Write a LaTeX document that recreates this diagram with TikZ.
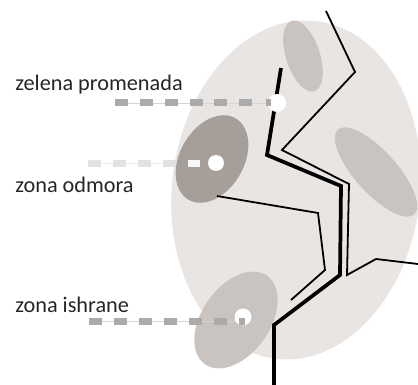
\documentclass[tikz,border=0pt]{standalone}
\usepackage{fontspec}
\setmainfont{Carlito}
\definecolor{parkbg}{HTML}{E9E5E3}
\definecolor{zonelight}{HTML}{CAC4C0}
\definecolor{zonedark}{HTML}{A69E99}
\definecolor{dashgrey}{HTML}{ABABAB}
\definecolor{dashpale}{HTML}{E2E2E2}
\tikzset{
  thinpath/.style={line width=1.35pt,line join=miter},
  thickpath/.style={line width=2.8pt,line join=miter},
  zonelabel/.style={anchor=base west,inner sep=0pt,font=\fontsize{16.7pt}{20pt}\selectfont,text=black!85},
}
\begin{document}
\begin{tikzpicture}[x=0.75pt,y=-0.75pt]
 \useasboundingbox (0,0) rectangle (418,385);
 % park and zones
 \fill[parkbg,rotate around={-7:(296,190)}] (296,190) ellipse [x radius=124,y radius=170];
 \fill[zonelight,rotate around={18:(303,56)}] (303,56) ellipse [x radius=17,y radius=37];
 \fill[zonelight,rotate around={42:(376,172)}] (376,172) ellipse [x radius=21,y radius=57];
 \fill[zonedark,rotate around={-30:(212,159)}] (212,159) ellipse [x radius=32,y radius=47];
 \fill[zonelight,rotate around={-35:(236,320)}] (236,320) ellipse [x radius=34,y radius=54];
 % paths
 \draw[thinpath] (326,11)--(355,72)--(282,150)--(349,184)--(347,275)--(376,259)--(418,264);
 \draw[thinpath] (217,196)--(318,213)--(325,270)--(291,300);
 \draw[thickpath] (281,68)--(267,155)--(341,186)--(340,275)--(274,325)--(274,385);
 % green promenade
 \draw[dashgrey!50,very thin] (115,103)--(270,103);
 \foreach \x in {115,140,165,190,214,239}
   \fill[dashgrey] (\x,99.5) rectangle ++(13,7);
 \fill[white] (277,103) circle [radius=9];
 \fill[dashgrey] (266,99.5) rectangle (271,106.5);
 % rest zone
 \draw[dashpale!60,very thin] (88,163)--(176,163);
 \foreach \x in {88,113,138,163}
   \fill[dashpale] (\x,159.5) rectangle ++(13,7);
 \fill[white!92!zonedark] (188,159.5) rectangle ++(12,7);
 \fill[white] (216,163) circle [radius=8];
 % food zone
 \draw[dashgrey!50,very thin] (89,321)--(245,321);
 \foreach \x in {89,114,139,164,189,214}
   \fill[dashgrey] (\x,317.5) rectangle ++(13,7);
 \fill[white] (243,317) circle [radius=8.5];
 \fill[dashgrey] (239,318) rectangle (245,324.5);
 % labels
 \node[zonelabel] (promenada) at (15,91) {zelena promenada};
 \node[zonelabel] (odmora) at (15,192) {zona odmora};
 \node[zonelabel] (ishrane) at (15,312) {zona ishrane};
\end{tikzpicture}
\end{document}
